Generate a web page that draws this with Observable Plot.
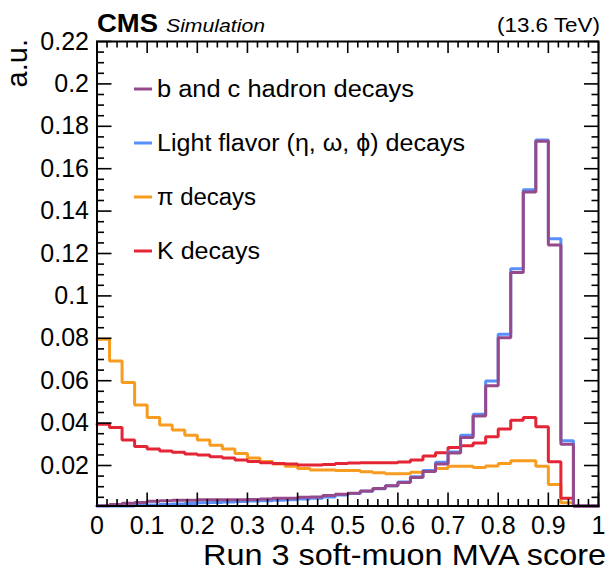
<!DOCTYPE html>
<html><head><meta charset="utf-8">
<script src="https://cdn.jsdelivr.net/npm/d3@7"></script>
<script src="https://cdn.jsdelivr.net/npm/@observablehq/plot@0.6"></script>
<style>
body{margin:0;background:#fff}
#chart svg{display:block;font-family:"Liberation Sans",Arial,Helvetica,sans-serif}
</style>
</head><body><div id="chart"></div>
<script>
// Bin low edges (bin width 0.025)
const binLow = [0,0.025,0.05,0.075,0.1,0.125,0.15,0.175,0.2,0.225,0.25,0.275,0.3,0.325,0.35,0.375,0.4,0.425,0.45,0.475,
  0.5,0.525,0.55,0.575,0.6,0.625,0.65,0.675,0.7,0.725,0.75,0.775,0.8,0.825,0.85,0.875,0.9,0.925,0.95,0.975];
const binHigh = 1;

const seriesNames = ["b and c hadron decays", "Light flavor (η, ω, ϕ) decays", "π decays", "K decays"];
const seriesColors = ["#964a8b", "#5790fc", "#f89c20", "#e42536"];

const bcHadron = [0.001,0.0016,0.0022,0.0026,0.0031,0.0034,0.0036,0.0036,0.0038,0.0038,0.0038,0.0038,0.004,0.0042,0.0045,0.0046,0.005,0.0052,0.0058,0.0064,
  0.0069,0.008,0.0091,0.0105,0.012,0.0144,0.0172,0.0207,0.0259,0.0332,0.0434,0.0576,0.0803,0.111,0.149,0.173,0.124,0.030,0,0];
const lightFlavor = [0.0005,0.0007,0.0009,0.0012,0.0014,0.0016,0.0019,0.0021,0.0024,0.0026,0.0028,0.003,0.0032,0.0034,0.0036,0.0039,0.0042,0.0046,0.0052,0.0061,
  0.0068,0.0079,0.009,0.0105,0.0122,0.0147,0.0176,0.0215,0.0264,0.0343,0.0442,0.0599,0.0819,0.1128,0.1501,0.1735,0.127,0.0317,0,0];
const piDecays = [0.0795,0.0693,0.0591,0.0485,0.0426,0.0391,0.0367,0.0343,0.032,0.0296,0.0278,0.0257,0.0235,0.0219,0.0207,0.0196,0.0186,0.0179,0.0179,0.0177,
  0.0176,0.0171,0.0166,0.0161,0.0161,0.0168,0.0176,0.0186,0.0196,0.0196,0.0191,0.0198,0.021,0.0223,0.0223,0.0196,0.011,0.0024,0,0];
const kDecays = [0.0395,0.0379,0.032,0.029,0.0278,0.0268,0.0262,0.0254,0.0249,0.0241,0.0235,0.0226,0.0219,0.0213,0.021,0.0207,0.0202,0.0202,0.0205,0.021,
  0.0212,0.0213,0.0213,0.0213,0.0216,0.0226,0.0245,0.026,0.0285,0.0293,0.0306,0.0336,0.0372,0.0414,0.0426,0.0383,0.0218,0.0045,0,0];

const xMajor = [0,0.1,0.2,0.3,0.4,0.5,0.6,0.7,0.8,0.9,1];
const xTickLabels = ["0","0.1","0.2","0.3","0.4","0.5","0.6","0.7","0.8","0.9","1"];
const yMajor = [0.02,0.04,0.06,0.08,0.1,0.12,0.14,0.16,0.18,0.2,0.22];
const yTickLabels = ["0.02","0.04","0.06","0.08","0.1","0.12","0.14","0.16","0.18","0.2","0.22"];
const xMinor = d3.range(0, 1.0001, 0.02).filter(v => Math.abs(v*10 - Math.round(v*10)) > 1e-6);
const yMinor = d3.range(0.005, 0.2201, 0.005).filter(v => Math.abs(v*50 - Math.round(v*50)) > 1e-6);

// Drawing order: π, K, light flavor, b/c (last on top)
const drawOrder = [
  [seriesNames[2], piDecays],
  [seriesNames[3], kDecays],
  [seriesNames[1], lightFlavor],
  [seriesNames[0], bcHadron]
];
const rows = [];
for (const [name, vals] of drawOrder) {
  vals.forEach((v, i) => rows.push({x: binLow[i], y: v, s: name}));
  rows.push({x: binHigh, y: vals[vals.length - 1], s: name});
}

const W = 609, H = 570;
const mL = 96.5, mR = 11, mT = 41, mB = 64.5;
const FS = 25;

const tk = {text: null, label: null, stroke: "#000", strokeWidth: 1.6};

const plot = Plot.plot({
  width: W, height: H,
  marginLeft: mL, marginRight: mR, marginTop: mT, marginBottom: mB,
  style: {fontFamily: '"Liberation Sans", Arial, Helvetica, sans-serif', background: "#fff", overflow: "visible"},
  x: {domain: [0, 1]},
  y: {domain: [0.0009, 0.22], clamp: true},
  color: {domain: seriesNames, range: seriesColors},
  marks: [
    Plot.line(rows, {x: "x", y: "y", z: "s", stroke: "s", curve: "step-after", strokeWidth: 3, strokeLinejoin: "miter"}),
    // inward ticks (positive size, shifted inside the frame)
    Plot.axisX({...tk, anchor: "bottom", ticks: xMajor, tickSize: 13, dy: -13}),
    Plot.axisX({...tk, anchor: "bottom", ticks: xMinor, tickSize: 6.5, dy: -6.5}),
    Plot.axisX({...tk, anchor: "top", ticks: xMajor, tickSize: 11, dy: 11}),
    Plot.axisX({...tk, anchor: "top", ticks: xMinor, tickSize: 5.5, dy: 5.5}),
    Plot.axisY({...tk, anchor: "left", ticks: yMajor, tickSize: 15, dx: 15}),
    Plot.axisY({...tk, anchor: "left", ticks: yMinor, tickSize: 7.5, dx: 7.5}),
    Plot.axisY({...tk, anchor: "right", ticks: yMajor, tickSize: 15, dx: -15}),
    Plot.axisY({...tk, anchor: "right", ticks: yMinor, tickSize: 7.5, dx: -7.5}),
    // tick labels
    Plot.axisX({anchor: "bottom", ticks: xMajor, tickSize: 0, tickPadding: 10, label: null, fontSize: FS,
      tickFormat: d => xTickLabels[xMajor.indexOf(d)], fill: "#000"}),
    Plot.axisY({anchor: "left", ticks: yMajor, tickSize: 0, tickPadding: 8, label: null, fontSize: FS,
      tickFormat: d => yTickLabels[yMajor.indexOf(d)], fill: "#000"}),
    Plot.frame({stroke: "#000", strokeWidth: 2})
  ]
});
document.getElementById("chart").appendChild(plot);

// Extra texts and in-plot legend
const svg = d3.select(plot);
const ff = '"Liberation Sans", Arial, Helvetica, sans-serif';
function addText(x, y, str, size, len, extra = {}) {
  const t = svg.append("text").attr("x", x).attr("y", y).attr("text-anchor", "start")
    .attr("font-size", size).attr("font-family", ff).attr("fill", "#000").text(str);
  if (len) t.attr("textLength", len).attr("lengthAdjust", "spacingAndGlyphs");
  for (const k in extra) t.attr(k, extra[k]);
  return t;
}
addText(203, H - 5, "Run 3 soft-muon MVA score", 29, 403);
svg.append("text").attr("transform", `translate(27,${mT - 2}) rotate(-90)`).attr("text-anchor", "end")
  .attr("font-size", 29).attr("font-family", ff).attr("fill", "#000").text("a.u.");
addText(97, 32, "CMS", 25, 61, {"font-weight": "bold"});
addText(166, 32, "Simulation", 19, 99, {"font-style": "italic"});
addText(497, 32, "(13.6 TeV)", 21, 103);

const legendY = [89, 143, 197, 251];
const legendLen = [257, 308, 99, 103];
seriesNames.forEach((name, i) => {
  const g = svg.append("g").attr("transform", `translate(0,${legendY[i]})`);
  g.append("line").attr("x1", 134).attr("x2", 152).attr("y1", 0).attr("y2", 0)
    .attr("stroke", seriesColors[i]).attr("stroke-width", 3);
  g.append("text").attr("x", 157).attr("y", 0).attr("dy", "0.35em").attr("font-size", 23)
    .attr("text-anchor", "start").attr("textLength", legendLen[i]).attr("lengthAdjust", "spacingAndGlyphs")
    .attr("font-family", ff).attr("fill", "#000").text(name);
});
</script>
</body></html>
